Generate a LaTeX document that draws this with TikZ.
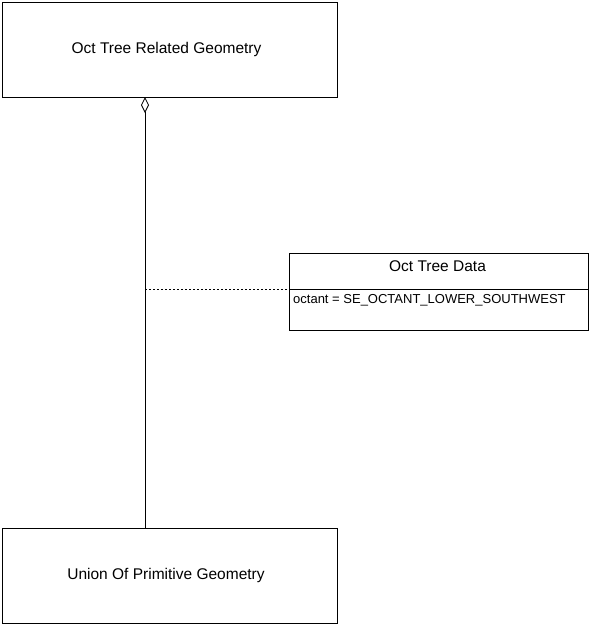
\documentclass[tikz,border=0pt]{standalone}
\usepackage{fontspec}
\setmainfont{Liberation Sans}
\usetikzlibrary{arrows.meta}
\begin{document}
\begin{tikzpicture}[x=1pt,y=-1pt,
  cls/.style={draw,line width=0.8pt,inner sep=0pt},
  lbl/.style={font=\fontsize{15.5}{18}\selectfont,inner sep=0pt},
  attr/.style={font=\fontsize{13}{15}\selectfont,inner sep=0pt,anchor=west},
  conn/.style={line width=0.8pt}]
\useasboundingbox (0,0) rectangle (591,625);
\fill[white] (0,0) rectangle (591,625);
% top class
\draw[cls] (2,2) rectangle (337,97);
\node[lbl] (top) at (166.5,49) {Oct Tree Related Geometry};
\coordinate (topb) at (145,97);
% bottom class
\draw[cls] (2,528) rectangle (337,623);
\node[lbl] (bot) at (166,575) {Union Of Primitive Geometry};
\coordinate (bott) at (145,528);
% association class
\draw[cls] (289,253) rectangle (588,330);
\draw[cls] (289,289) -- (588,289);
\node[lbl] (oct) at (437.5,266) {Oct Tree Data};
\node[attr] (att) at (293,300) {octant = SE\_OCTANT\_LOWER\_SOUTHWEST};
\coordinate (octl) at (289,289);
% aggregation
\draw[conn,{Diamond[open,width=8pt,length=16pt,line width=0.8pt]}-] (topb) -- (bott);
\coordinate (mid) at (145,289);
\draw[line width=0.8pt,dash pattern=on 2pt off 2pt] (mid) -- (octl);
\end{tikzpicture}
\end{document}
